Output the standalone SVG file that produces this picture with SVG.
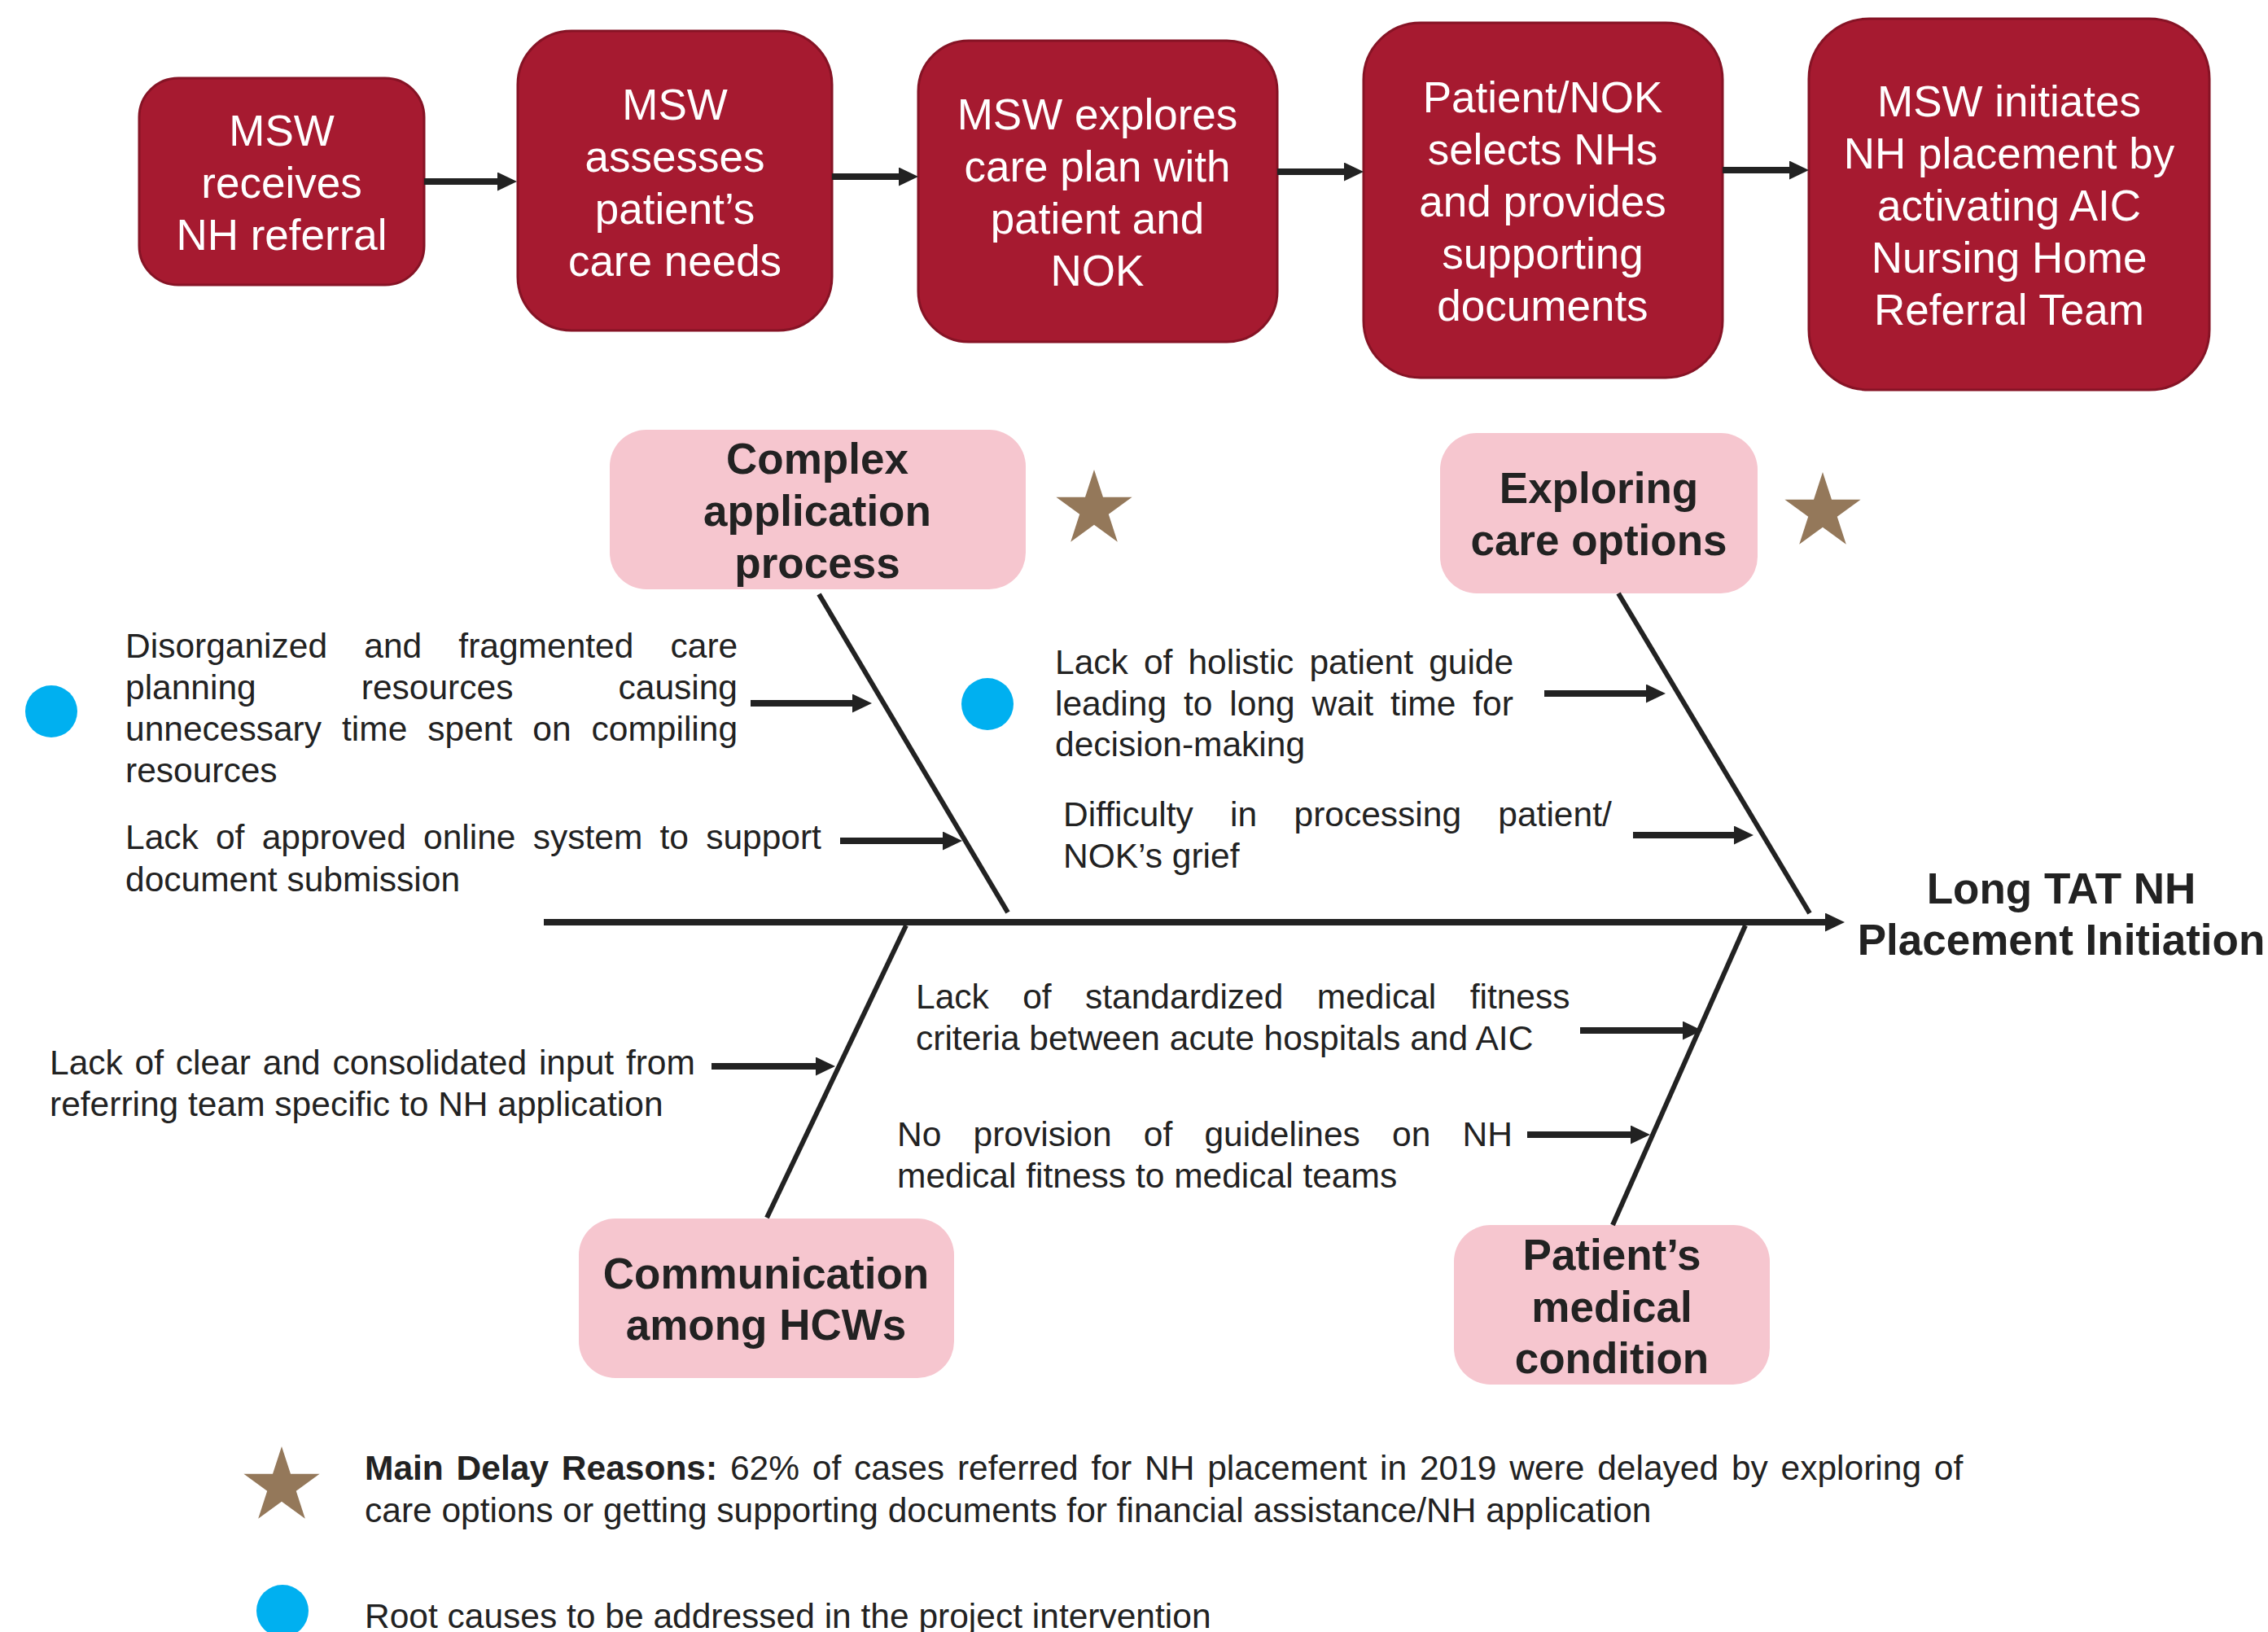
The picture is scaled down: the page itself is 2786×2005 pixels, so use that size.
<svg xmlns="http://www.w3.org/2000/svg" xmlns:xlink="http://www.w3.org/1999/xlink" width="2786" height="2005" viewBox="0 0 2786 2005">
<defs>
<style>
.step{fill:#A61A30;stroke:#861325;stroke-width:3}
.steptxt{font-family:"Liberation Sans",Arial,sans-serif;font-size:53px;fill:#ffffff;text-anchor:middle}
.cat{fill:#F6C6CF}
.cattxt{font-family:"Liberation Sans",Arial,sans-serif;font-size:53px;font-weight:bold;fill:#222222;text-anchor:middle}
.body{font-family:"Liberation Sans",Arial,sans-serif;font-size:42.5px;fill:#222222}
.bone{stroke:#222222;stroke-width:6;fill:none}
.arr{stroke:#222222;stroke-width:8;fill:none;marker-end:url(#ah)}
.dot{fill:#00B0F0}
.star{fill:#94785A}
</style>
<marker id="ah" viewBox="0 0 24 23" refX="12" refY="11.5" markerWidth="24" markerHeight="23" markerUnits="userSpaceOnUse" orient="auto">
<path d="M0,0 L24,11.5 L0,23 Z" fill="#222222"/>
</marker>
<polygon id="starshape" points="0,-49 10.99,-15.13 46.6,-15.14 17.78,5.78 28.8,39.64 0,18.7 -28.8,39.64 -17.78,5.78 -46.6,-15.14 -10.99,-15.13"/>
</defs>
<rect width="2786" height="2005" fill="#ffffff"/>

<g id="step1">
<rect class="step" x="171" y="96" width="350" height="254" rx="48" ry="48"/>
<text class="steptxt"><tspan x="346" y="179">MSW</tspan><tspan x="346" y="243">receives</tspan><tspan x="346" y="307">NH referral</tspan></text>
</g>
<g id="step2">
<rect class="step" x="636" y="38" width="386" height="368" rx="66" ry="66"/>
<text class="steptxt"><tspan x="829" y="147">MSW</tspan><tspan x="829" y="211">assesses</tspan><tspan x="829" y="275">patient’s</tspan><tspan x="829" y="339">care needs</tspan></text>
</g>
<g id="step3">
<rect class="step" x="1128" y="50" width="441" height="370" rx="62" ry="62"/>
<text class="steptxt"><tspan x="1348" y="159">MSW explores</tspan><tspan x="1348" y="223">care plan with</tspan><tspan x="1348" y="287">patient and</tspan><tspan x="1348" y="351">NOK</tspan></text>
</g>
<g id="step4">
<rect class="step" x="1675" y="28" width="441" height="436" rx="70" ry="70"/>
<text class="steptxt"><tspan x="1895" y="138">Patient/NOK</tspan><tspan x="1895" y="202">selects NHs</tspan><tspan x="1895" y="266">and provides</tspan><tspan x="1895" y="330">supporting</tspan><tspan x="1895" y="394">documents</tspan></text>
</g>
<g id="step5">
<rect class="step" x="2222" y="23" width="492" height="456" rx="74" ry="74"/>
<text class="steptxt"><tspan x="2468" y="143">MSW initiates</tspan><tspan x="2468" y="207">NH placement by</tspan><tspan x="2468" y="271">activating AIC</tspan><tspan x="2468" y="335">Nursing Home</tspan><tspan x="2468" y="399">Referral Team</tspan></text>
</g>

<g id="cat-complex">
<rect class="cat" x="749" y="528" width="511" height="196" rx="45" ry="45"/>
<text class="cattxt"><tspan x="1004" y="582">Complex</tspan><tspan x="1004" y="646">application</tspan><tspan x="1004" y="710">process</tspan></text>
</g>
<g id="cat-exploring">
<rect class="cat" x="1769" y="532" width="390" height="197" rx="45" ry="45"/>
<text class="cattxt"><tspan x="1964" y="618">Exploring</tspan><tspan x="1964" y="682">care options</tspan></text>
</g>
<g id="cat-communication">
<rect class="cat" x="711" y="1497" width="461" height="196" rx="45" ry="45"/>
<text class="cattxt"><tspan x="941" y="1583">Communication</tspan><tspan x="941" y="1646">among HCWs</tspan></text>
</g>
<g id="cat-medical">
<rect class="cat" x="1786" y="1505" width="388" height="196" rx="45" ry="45"/>
<text class="cattxt"><tspan x="1980" y="1560">Patient’s</tspan><tspan x="1980" y="1624">medical</tspan><tspan x="1980" y="1687">condition</tspan></text>
</g>
<g id="effect">
<text class="cattxt"><tspan x="2532" y="1110">Long TAT NH</tspan><tspan x="2532" y="1173">Placement Initiation</tspan></text>
</g>

<g id="stars">
<use xlink:href="#starshape" class="star" x="1344" y="626"/>
<use xlink:href="#starshape" class="star" x="2239" y="629"/>
<use xlink:href="#starshape" class="star" x="346" y="1826"/>
</g>
<g id="dots">
<circle class="dot" cx="63" cy="874" r="32"/>
<circle class="dot" cx="1213" cy="865" r="32"/>
<circle class="dot" cx="347" cy="1979" r="32"/>
</g>

<g id="connectors">
<line class="arr" x1="521" y1="223" x2="623" y2="223"/>
<line class="arr" x1="1022" y1="217" x2="1116" y2="217"/>
<line class="arr" x1="1569" y1="211" x2="1663" y2="211"/>
<line class="arr" x1="2116" y1="209" x2="2210" y2="209"/>
<line x1="668" y1="1133" x2="2254" y2="1133" stroke="#222222" stroke-width="8" marker-end="url(#ah)"/>
<line class="bone" x1="1006" y1="730" x2="1238" y2="1121"/>
<line class="bone" x1="1988" y1="729" x2="2223" y2="1122"/>
<line class="bone" x1="1113" y1="1137" x2="942" y2="1496"/>
<line class="bone" x1="2144" y1="1137" x2="1981" y2="1505"/>
<line class="arr" x1="922" y1="864" x2="1059" y2="864"/>
<line class="arr" x1="1032" y1="1033" x2="1170" y2="1033"/>
<line class="arr" x1="1897" y1="852" x2="2034" y2="852"/>
<line class="arr" x1="2006" y1="1026" x2="2142" y2="1026"/>
<line class="arr" x1="874" y1="1310" x2="1014" y2="1310"/>
<line class="arr" x1="1941" y1="1266" x2="2079" y2="1266"/>
<line class="arr" x1="1876" y1="1394" x2="2015" y2="1394"/>
</g>

<g id="causes">
<text class="body" x="154" y="808" word-spacing="33.4">Disorganized and fragmented care</text>
<text class="body" x="154" y="859" word-spacing="117.3">planning resources causing</text>
<text class="body" x="154" y="910" word-spacing="13.2">unnecessary time spent on compiling</text>
<text class="body" x="154" y="961">resources</text>
<text class="body" x="154" y="1043" word-spacing="9.4">Lack of approved online system to support</text>
<text class="body" x="154" y="1095">document submission</text>
<text class="body" x="1296" y="828" word-spacing="7.3">Lack of holistic patient guide</text>
<text class="body" x="1296" y="879" word-spacing="9.1">leading to long wait time for</text>
<text class="body" x="1296" y="929">decision-making</text>
<text class="body" x="1306" y="1015" word-spacing="33.5">Difficulty in processing patient/</text>
<text class="body" x="1306" y="1066">NOK’s grief</text>
<text class="body" x="61" y="1320" word-spacing="3">Lack of clear and consolidated input from</text>
<text class="body" x="61" y="1371">referring team specific to NH application</text>
<text class="body" x="1125" y="1239" word-spacing="29.6">Lack of standardized medical fitness</text>
<text class="body" x="1125" y="1290">criteria between acute hospitals and AIC</text>
<text class="body" x="1102" y="1408" word-spacing="27.4">No provision of guidelines on NH</text>
<text class="body" x="1102" y="1459">medical fitness to medical teams</text>
</g>

<g id="legend">
<text class="body" x="448" y="1818" word-spacing="4"><tspan font-weight="bold">Main Delay Reasons:</tspan> 62% of cases referred for NH placement in 2019 were delayed by exploring of</text>
<text class="body" x="448" y="1870">care options or getting supporting documents for financial assistance/NH application</text>
<text class="body" x="448" y="2000">Root causes to be addressed in the project intervention</text>
</g>
</svg>
